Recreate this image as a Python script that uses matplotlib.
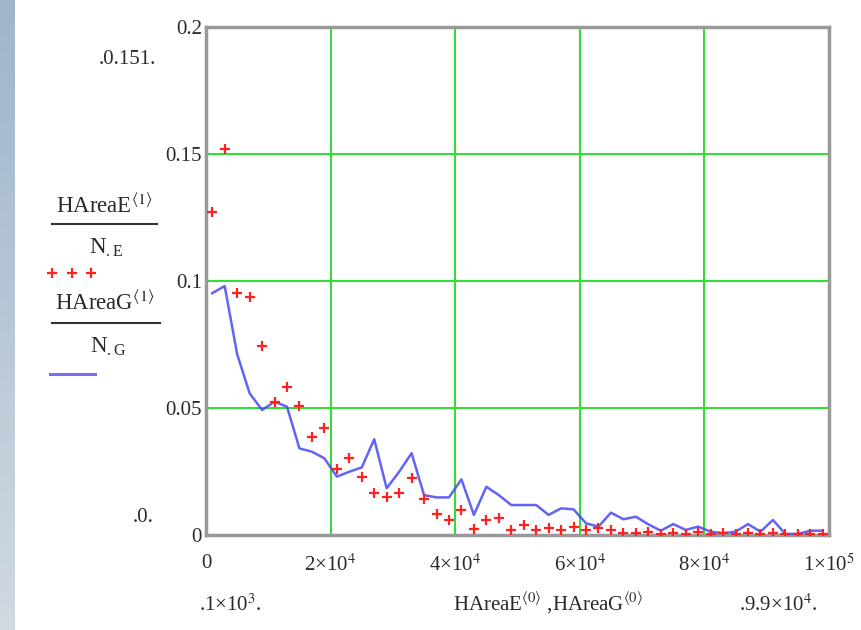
import numpy as np
import matplotlib.pyplot as plt
from matplotlib.lines import Line2D

plt.rcParams['font.family'] = ['Liberation Serif', 'DejaVu Serif']
plt.rcParams['mathtext.fontset'] = 'stix'

# bin centres of the area histograms
area_x = [1000, 3000, 5000, 7000, 9000, 11000, 13000, 15000, 17000, 19000,
          21000, 23000, 25000, 27000, 29000, 31000, 33000, 35000, 37000, 39000,
          41000, 43000, 45000, 47000, 49000, 51000, 53000, 55000, 57000, 59000,
          61000, 63000, 65000, 67000, 69000, 71000, 73000, 75000, 77000, 79000,
          81000, 83000, 85000, 87000, 89000, 91000, 93000, 95000, 97000, 99000]

# HAreaE<1> / N.E  (red crosses)
hist_e = [0.1273, 0.1519, 0.0952, 0.0936, 0.0744, 0.0525, 0.0584, 0.0509, 0.0385, 0.0423,
          0.0259, 0.0302, 0.0230, 0.0164, 0.0148, 0.0164, 0.0223, 0.0142, 0.0083, 0.0059,
          0.0098, 0.0022, 0.0059, 0.0066, 0.0020, 0.0039, 0.0020, 0.0026, 0.0020, 0.0033,
          0.0020, 0.0026, 0.0020, 0.0008, 0.0008, 0.0012, 0.0004, 0.0008, 0.0004, 0.0012,
          0.0004, 0.0008, 0.0004, 0.0008, 0.0004, 0.0008, 0.0004, 0.0004, 0.0004, 0.0004]

# HAreaG<1> / N.G  (blue line)
hist_g = [0.0952, 0.0980, 0.0712, 0.0558, 0.0492, 0.0525, 0.0505, 0.0341, 0.0328, 0.0302,
          0.0230, 0.0249, 0.0266, 0.0377, 0.0184, 0.0249, 0.0322, 0.0157, 0.0148, 0.0148,
          0.0219, 0.0079, 0.0190, 0.0157, 0.0118, 0.0118, 0.0118, 0.0079, 0.0105, 0.0101,
          0.0046, 0.0033, 0.0088, 0.0062, 0.0072, 0.0042, 0.0017, 0.0043, 0.0020, 0.0033,
          0.0013, 0.0007, 0.0013, 0.0043, 0.0013, 0.0059, 0.0004, 0.0004, 0.0017, 0.0017]

x_ticks = [0, 20000, 40000, 60000, 80000, 100000]
x_tick_labels = ['0', r'2×10$^{4}$', r'4×10$^{4}$', r'6×10$^{4}$', r'8×10$^{4}$', r'1×10$^{5}$']
y_ticks = [0, 0.05, 0.1, 0.15, 0.2]
y_tick_labels = ['0', '0.05', '0.1', '0.15', '0.2']

W, H = 861, 630
fig = plt.figure(figsize=(W / 100, H / 100), dpi=100)


def px(x, y):
    return x / W, 1 - y / H


# blue-grey strip on the left edge
strip = fig.add_axes([0, 0, 15 / W, 1])
grad = np.linspace(0, 1, 256).reshape(-1, 1)
c_top = np.array([0.62, 0.71, 0.80])
c_bot = np.array([0.82, 0.85, 0.88])
strip.imshow(c_top + (c_bot - c_top) * grad[:, :, None], aspect='auto')
strip.axis('off')

ax = fig.add_axes([206 / W, 1 - 535 / H, 623 / W, 508 / H])
ax.plot(area_x, hist_g, color='#4848f5', lw=1.8, alpha=0.85, zorder=3)
ax.plot(area_x, hist_e, linestyle='none', marker='+', color='#ff2020',
        ms=7, mew=1.6, zorder=4)

ax.set_xlim(0, 100000)
ax.set_ylim(0, 0.2)
ax.set_xticks(x_ticks)
ax.set_xticklabels(x_tick_labels)
ax.set_yticks(y_ticks)
ax.set_yticklabels(y_tick_labels)
ax.tick_params(length=0, labelsize=15, colors='#2a2a2a')
ax.tick_params(axis='x', pad=14)
ax.tick_params(axis='y', pad=3)
ax.grid(True, color='#33dd33', lw=1.5)
ax.set_axisbelow(True)
for s in ax.spines.values():
    s.set_color('#999999')
    s.set_linewidth(2.5)

txt = dict(fontsize=15, color='#2a2a2a', ha='center', va='center')
leg = dict(txt, fontsize=16.5)
fig.text(*px(127, 60), '.0.151.', **txt)
fig.text(*px(143, 518), '.0.', **txt)
fig.text(*px(230, 605), r'.1×10$^{3}$.', **txt)
fig.text(*px(548, 603), r'HAreaE$^{\langle 0\rangle}$ ,HAreaG$^{\langle 0\rangle}$', **txt)
fig.text(*px(778, 605), r'.9.9×10$^{4}$.', **txt)

# legend built from stacked fractions, Mathcad style
fig.text(*px(104, 206), r'HAreaE$^{\langle 1\rangle}$', **leg)
fig.add_artist(Line2D([52 / W, 157 / W], [1 - 224 / H] * 2, color='#333333', lw=1.5))
fig.text(*px(106, 247), r'N$_{\mathregular{.E}}$', **leg)
fig.add_artist(Line2D([52 / W, 72 / W, 91 / W], [1 - 273 / H] * 3, linestyle='none',
                      marker='+', color='#ff2020', ms=7, mew=1.6))
fig.text(*px(105, 303), r'HAreaG$^{\langle 1\rangle}$', **leg)
fig.add_artist(Line2D([52 / W, 160 / W], [1 - 323 / H] * 2, color='#333333', lw=1.5))
fig.text(*px(108, 346), r'N$_{\mathregular{.G}}$', **leg)
fig.add_artist(Line2D([50 / W, 95 / W], [1 - 374 / H] * 2, color='#7070f5', lw=2.2))

fig.savefig('out.png', dpi=100)
